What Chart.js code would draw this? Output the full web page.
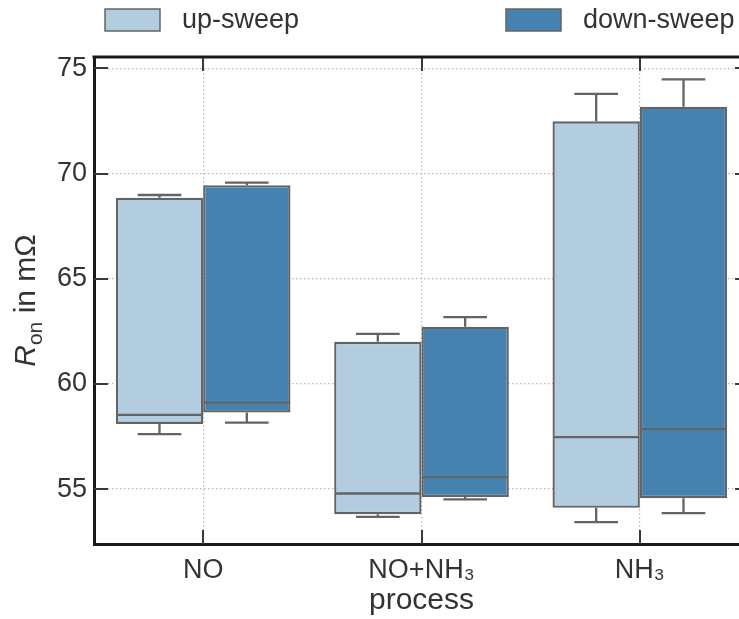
<!DOCTYPE html>
<html>
<head>
<meta charset="utf-8">
<script src="https://cdn.jsdelivr.net/npm/chart.js@4.4.1/dist/chart.umd.min.js"></script>
<style>
  html, body { margin: 0; padding: 0; background: #ffffff; overflow: hidden; }
  #wrap { width: 739px; height: 619px; overflow: hidden; position: relative; }
  canvas { display: block; }
</style>
</head>
<body>
<div id="wrap"><canvas id="chart" width="760" height="619"></canvas></div>
<script>
// Process categories on the x axis
const categories = ['NO', 'NO+NH\u2083', 'NH\u2083'];

// Box statistics of R_on (mΩ), up-sweep
const upLow    = [57.61, 53.68, 53.43];
const upQ1     = [58.10, 53.81, 54.11];
const upMedian = [58.53, 54.79, 57.47];
const upQ3     = [68.85, 62.00, 72.48];
const upHigh   = [68.98, 62.38, 73.79];

// Box statistics of R_on (mΩ), down-sweep
const downLow    = [58.16, 54.51, 53.86];
const downQ1     = [58.64, 54.62, 54.57];
const downMedian = [59.11, 55.57, 57.85];
const downQ3     = [69.44, 62.72, 73.18];
const downHigh   = [69.57, 63.17, 74.48];

// Y axis ticks
const yTicks = [55, 60, 65, 70, 75];
const yMin = 52.39;
const yMax = 75.54;

const FONT = '"Liberation Sans", Arial, Helvetica, sans-serif';
const TEXT = '#333333';
const EDGE = '#646464';
const SPINE = '#1a1a1a';
const LIGHT = '#b3cde0';
const DARK = '#4682b0';

function boxRanges(q1, q3) {
  return q1.map((v, i) => [v, q3[i]]);
}

// Median lines and whiskers, placed with the chart's own scales
const boxParts = {
  id: 'boxParts',
  afterDatasetsDraw(chart) {
    const ctx = chart.ctx;
    const y = chart.scales.y;
    chart.data.datasets.forEach((ds, di) => {
      const meta = chart.getDatasetMeta(di);
      meta.data.forEach((bar, i) => {
        const { x, width } = bar.getProps(['x', 'width'], true);
        const yMed = y.getPixelForValue(ds.median[i]);
        const yLo = y.getPixelForValue(ds.low[i]);
        const yHi = y.getPixelForValue(ds.high[i]);
        const yQ1 = y.getPixelForValue(ds.data[i][0]);
        const yQ3 = y.getPixelForValue(ds.data[i][1]);
        ctx.save();
        ctx.strokeStyle = EDGE;
        ctx.lineWidth = 2.3;
        ctx.beginPath();
        ctx.moveTo(x - width / 2 + 1, yMed); ctx.lineTo(x + width / 2 - 1, yMed);
        ctx.moveTo(x, yQ3); ctx.lineTo(x, yHi);
        ctx.moveTo(x - width / 4, yHi); ctx.lineTo(x + width / 4, yHi);
        ctx.moveTo(x, yQ1); ctx.lineTo(x, yLo);
        ctx.moveTo(x - width / 4, yLo); ctx.lineTo(x + width / 4, yLo);
        ctx.stroke();
        ctx.restore();
      });
    });
  }
};

// Frame: top/right spines, inward ticks, legend and the y-axis title
const frame = {
  id: 'frame',
  afterDraw(chart) {
    const ctx = chart.ctx;
    const { left, right, top, bottom } = chart.chartArea;
    const xs = chart.scales.x;
    const ys = chart.scales.y;
    const tickLen = 14;

    ctx.save();
    // inward tick marks
    ctx.strokeStyle = '#3a3a3a';
    ctx.lineWidth = 2;
    ctx.beginPath();
    yTicks.forEach(v => {
      const py = Math.round(ys.getPixelForValue(v));
      ctx.moveTo(left, py); ctx.lineTo(left + tickLen, py);
      ctx.moveTo(right, py); ctx.lineTo(right - tickLen, py);
    });
    categories.forEach((c, i) => {
      const px = Math.round(xs.getPixelForValue(i));
      ctx.moveTo(px, bottom); ctx.lineTo(px, bottom - tickLen);
      ctx.moveTo(px, top); ctx.lineTo(px, top + tickLen);
    });
    ctx.stroke();

    // top and right spines
    ctx.strokeStyle = SPINE;
    ctx.lineWidth = 3;
    ctx.beginPath();
    ctx.moveTo(left - 1.5, top); ctx.lineTo(right + 1.5, top);
    ctx.moveTo(right, top); ctx.lineTo(right, bottom);
    ctx.stroke();

    // legend
    const items = chart.data.datasets.map(ds => ({ label: ds.label, color: ds.backgroundColor }));
    const slots = [105, 506];
    ctx.font = '27px ' + FONT;
    ctx.textBaseline = 'middle';
    ctx.textAlign = 'left';
    items.forEach((it, k) => {
      const x0 = slots[k];
      ctx.fillStyle = it.color;
      ctx.fillRect(x0, 9, 55, 22);
      ctx.strokeStyle = EDGE;
      ctx.lineWidth = 1.5;
      ctx.strokeRect(x0, 9, 55, 22);
      ctx.fillStyle = TEXT;
      ctx.fillText(it.label, x0 + 77, 21);
    });

    // y-axis title: italic R with subscript "on"
    const parts = [
      { t: 'R', f: 'italic 30px ' + FONT, dy: 0 },
      { t: 'on', f: '21px ' + FONT, dy: 7 },
      { t: ' in m\u03A9', f: '30px ' + FONT, dy: 0 }
    ];
    let total = 0;
    parts.forEach(p => { ctx.font = p.f; p.w = ctx.measureText(p.t).width; total += p.w; });
    ctx.translate(24, (top + bottom) / 2);
    ctx.rotate(-Math.PI / 2);
    ctx.fillStyle = TEXT;
    ctx.textBaseline = 'alphabetic';
    let cx = -total / 2;
    parts.forEach(p => {
      ctx.font = p.f;
      ctx.fillText(p.t, cx, 11 + p.dy);
      cx += p.w;
    });
    ctx.restore();
  }
};

const chart = new Chart(document.getElementById('chart'), {
  type: 'bar',
  data: {
    labels: categories,
    datasets: [
      {
        label: 'up-sweep',
        data: boxRanges(upQ1, upQ3),
        low: upLow, median: upMedian, high: upHigh,
        backgroundColor: LIGHT,
        borderColor: EDGE,
        borderWidth: 2.3,
        borderSkipped: false
      },
      {
        label: 'down-sweep',
        data: boxRanges(downQ1, downQ3),
        low: downLow, median: downMedian, high: downHigh,
        backgroundColor: DARK,
        borderColor: EDGE,
        borderWidth: 2.3,
        borderSkipped: false
      }
    ]
  },
  options: {
    responsive: false,
    devicePixelRatio: 1,
    animation: false,
    categoryPercentage: 0.8,
    barPercentage: 1.0,
    layout: { padding: { top: 57, right: 11, left: 0, bottom: 0 } },
    plugins: {
      legend: { display: false },
      tooltip: { enabled: false }
    },
    scales: {
      x: {
        grid: {
          offset: false,
          drawTicks: false,
          color: '#b8b8b8',
          lineWidth: 1.2
        },
        border: { display: true, color: SPINE, width: 3, dash: [1.5, 2.5] },
        ticks: {
          padding: 10,
          color: TEXT,
          font: { family: FONT, size: 27 }
        },
        title: {
          display: true,
          text: 'process',
          color: TEXT,
          font: { family: FONT, size: 30 },
          padding: { top: 0, bottom: 0 }
        },
        afterFit(scale) { scale.height = 75; }
      },
      y: {
        min: yMin,
        max: yMax,
        grid: {
          drawTicks: false,
          color: '#b8b8b8',
          lineWidth: 1.2
        },
        border: { display: true, color: SPINE, width: 3, dash: [1.5, 2.5] },
        ticks: {
          stepSize: 5,
          includeBounds: false,
          padding: 7,
          color: TEXT,
          font: { family: FONT, size: 27 }
        },
        afterFit(scale) { scale.width = 94; }
      }
    }
  },
  plugins: [boxParts, frame]
});
</script>
</body>
</html>
